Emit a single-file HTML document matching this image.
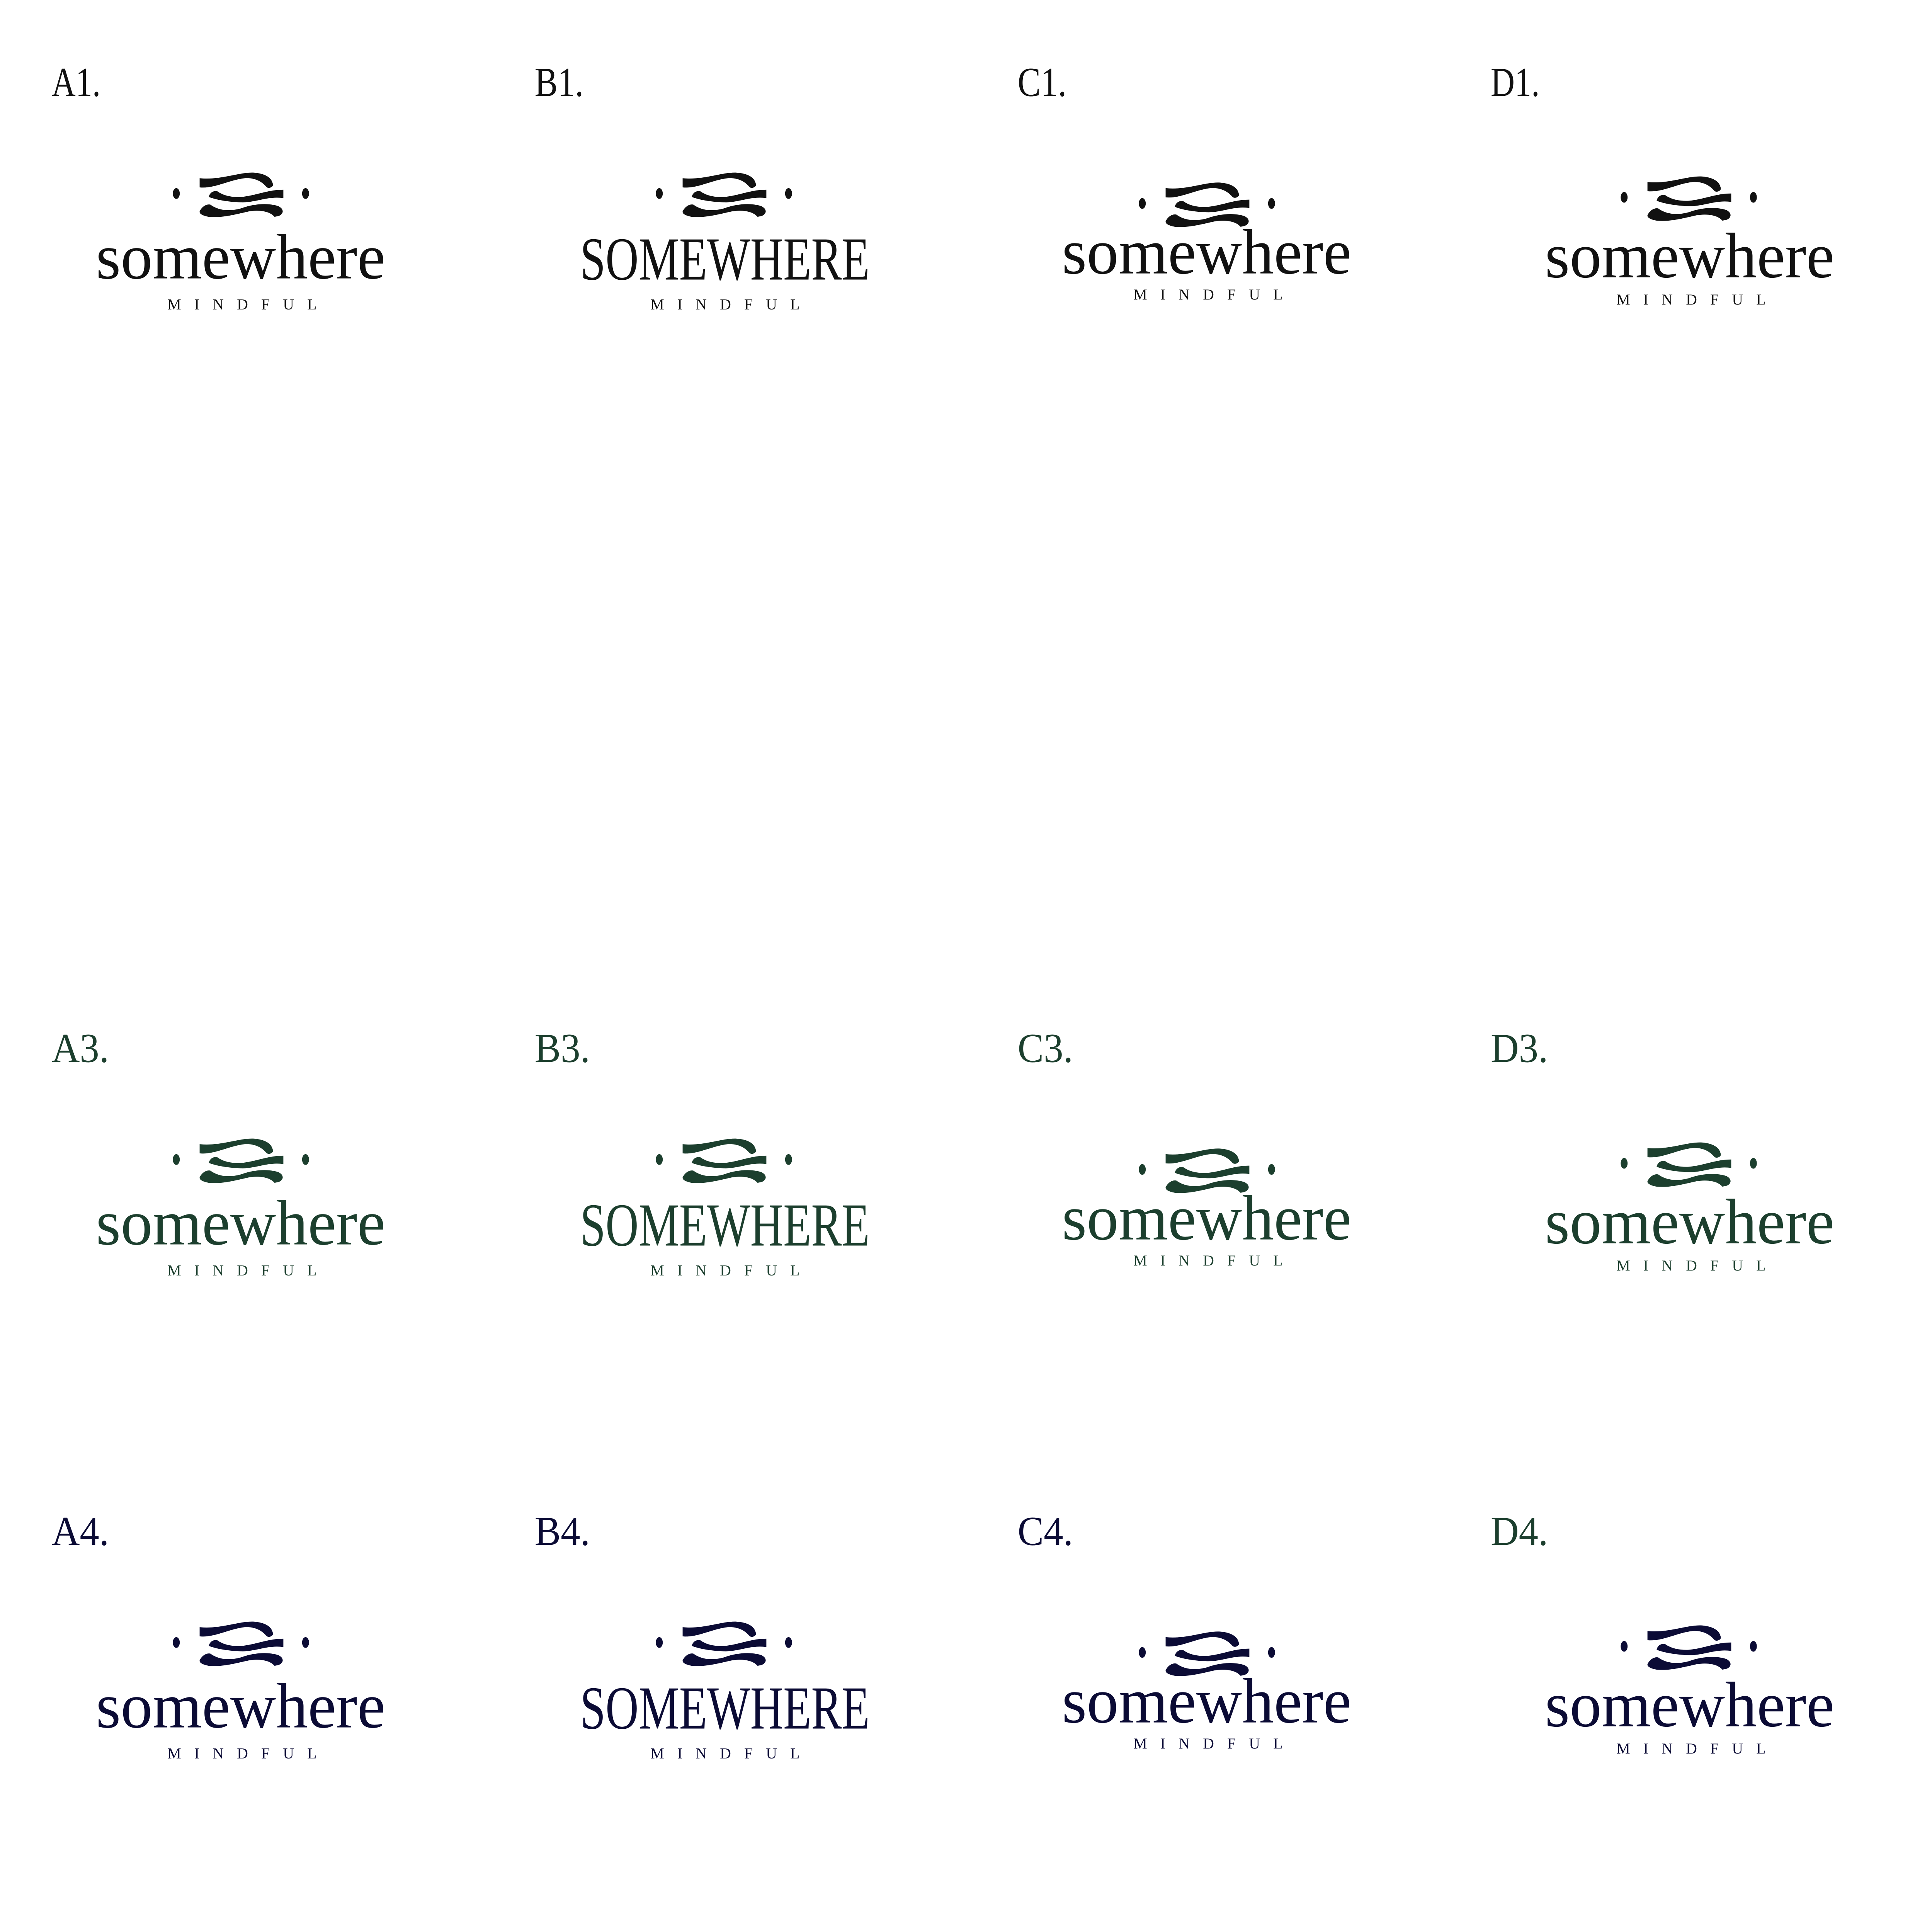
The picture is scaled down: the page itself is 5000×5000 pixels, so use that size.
<!DOCTYPE html>
<html><head><meta charset="utf-8"><style>
html,body{margin:0;padding:0;background:#fff;}
svg{display:block;}
text{font-family:"Liberation Serif",serif;}
.lb{font-size:108px;}
.sw{font-size:168px;}
.SW{font-size:160px;}
.mf{font-size:40px;}
</style></head><body>
<svg width="5000" height="5000" viewBox="0 0 5000 5000" xmlns="http://www.w3.org/2000/svg">
<rect width="5000" height="5000" fill="#fff"/>
<defs>
<g id="ic">
<ellipse cx="461" cy="506" rx="9" ry="14"/>
<ellipse cx="799" cy="506" rx="9" ry="14"/>
<path d="M522,466 L522,490 C560,494 600,470 640,466 C668,464 686,476 698,490 C704,493 712,490 714,484 C712,468 700,456 670,452 C630,447 580,472 522,466 Z"/>
<path d="M741,496 L741,518 C700,512 670,530 630,529 C600,528 570,524 546,515 C548,504 558,498 568,500 C585,512 605,516 630,515 C668,512 700,496 741,496 Z"/>
<path d="M522,553 C528,540 540,533 550,535 C572,551 600,553 630,545 C662,533 700,530 728,539 C744,547 742,560 728,565 L718,567 C706,553 680,548 650,553 C610,562 580,570 546,567 C530,564 521,559 522,553 Z"/>
</g>
</defs>
<g transform="scale(0.9897)">
<!-- ROW 1 -->
<g fill="#111">
<text class="lb" x="135" y="251" textLength="128" lengthAdjust="spacingAndGlyphs">A1.</text>
<use href="#ic"/>
<text class="sw" x="251" y="728" textLength="757" lengthAdjust="spacingAndGlyphs">somewhere</text>
<text class="mf" x="438" y="809" textLength="390" lengthAdjust="spacing">MINDFUL</text>
</g>
<g fill="#111" transform="translate(1263,0)">
<text class="lb" x="135" y="251" textLength="128" lengthAdjust="spacingAndGlyphs">B1.</text>
<use href="#ic"/>
<text class="SW" x="254" y="731" textLength="757" lengthAdjust="spacingAndGlyphs">SOMEWHERE</text>
<text class="mf" x="438" y="809" textLength="390" lengthAdjust="spacing">MINDFUL</text>
</g>
<g fill="#111" transform="translate(2526,0)">
<text class="lb" x="135" y="251" textLength="128" lengthAdjust="spacingAndGlyphs">C1.</text>
<use href="#ic" transform="translate(0,26)"/>
<text class="sw" x="251" y="715" textLength="757" lengthAdjust="spacingAndGlyphs">somewhere</text>
<text class="mf" x="438" y="783" textLength="390" lengthAdjust="spacing">MINDFUL</text>
</g>
<g fill="#111" transform="translate(3763,0)">
<text class="lb" x="135" y="251" textLength="128" lengthAdjust="spacingAndGlyphs">D1.</text>
<use href="#ic" transform="translate(23,10)"/>
<text class="sw" x="277" y="725" textLength="757" lengthAdjust="spacingAndGlyphs">somewhere</text>
<text class="mf" x="464" y="796" textLength="390" lengthAdjust="spacing">MINDFUL</text>
</g>

<!-- ROW 3 -->
<g fill="#1c3f2e" transform="translate(0,2526)">
<text class="lb" x="135" y="251" textLength="150" lengthAdjust="spacingAndGlyphs">A3.</text>
<use href="#ic"/>
<text class="sw" x="251" y="728" textLength="757" lengthAdjust="spacingAndGlyphs">somewhere</text>
<text class="mf" x="438" y="809" textLength="390" lengthAdjust="spacing">MINDFUL</text>
</g>
<g fill="#1c3f2e" transform="translate(1263,2526)">
<text class="lb" x="135" y="251" textLength="145" lengthAdjust="spacingAndGlyphs">B3.</text>
<use href="#ic"/>
<text class="SW" x="254" y="731" textLength="757" lengthAdjust="spacingAndGlyphs">SOMEWHERE</text>
<text class="mf" x="438" y="809" textLength="390" lengthAdjust="spacing">MINDFUL</text>
</g>
<g fill="#1c3f2e" transform="translate(2526,2526)">
<text class="lb" x="135" y="251" textLength="145" lengthAdjust="spacingAndGlyphs">C3.</text>
<use href="#ic" transform="translate(0,26)"/>
<text class="sw" x="251" y="715" textLength="757" lengthAdjust="spacingAndGlyphs">somewhere</text>
<text class="mf" x="438" y="783" textLength="390" lengthAdjust="spacing">MINDFUL</text>
</g>
<g fill="#1c3f2e" transform="translate(3763,2526)">
<text class="lb" x="135" y="251" textLength="150" lengthAdjust="spacingAndGlyphs">D3.</text>
<use href="#ic" transform="translate(23,10)"/>
<text class="sw" x="277" y="725" textLength="757" lengthAdjust="spacingAndGlyphs">somewhere</text>
<text class="mf" x="464" y="796" textLength="390" lengthAdjust="spacing">MINDFUL</text>
</g>

<!-- ROW 4 -->
<g fill="#0b0b35" transform="translate(0,3789)">
<text class="lb" x="135" y="251" textLength="150" lengthAdjust="spacingAndGlyphs">A4.</text>
<use href="#ic"/>
<text class="sw" x="251" y="728" textLength="757" lengthAdjust="spacingAndGlyphs">somewhere</text>
<text class="mf" x="438" y="809" textLength="390" lengthAdjust="spacing">MINDFUL</text>
</g>
<g fill="#0b0b35" transform="translate(1263,3789)">
<text class="lb" x="135" y="251" textLength="145" lengthAdjust="spacingAndGlyphs">B4.</text>
<use href="#ic"/>
<text class="SW" x="254" y="731" textLength="757" lengthAdjust="spacingAndGlyphs">SOMEWHERE</text>
<text class="mf" x="438" y="809" textLength="390" lengthAdjust="spacing">MINDFUL</text>
</g>
<g fill="#0b0b35" transform="translate(2526,3789)">
<text class="lb" x="135" y="251" textLength="145" lengthAdjust="spacingAndGlyphs">C4.</text>
<use href="#ic" transform="translate(0,26)"/>
<text class="sw" x="251" y="715" textLength="757" lengthAdjust="spacingAndGlyphs">somewhere</text>
<text class="mf" x="438" y="783" textLength="390" lengthAdjust="spacing">MINDFUL</text>
</g>
<g fill="#0b0b35" transform="translate(3763,3789)">
<text class="lb" x="135" y="251" fill="#1c3f2e" textLength="150" lengthAdjust="spacingAndGlyphs">D4.</text>
<use href="#ic" transform="translate(23,10)"/>
<text class="sw" x="277" y="725" textLength="757" lengthAdjust="spacingAndGlyphs">somewhere</text>
<text class="mf" x="464" y="796" textLength="390" lengthAdjust="spacing">MINDFUL</text>
</g>
</g>
</svg>
</body></html>
